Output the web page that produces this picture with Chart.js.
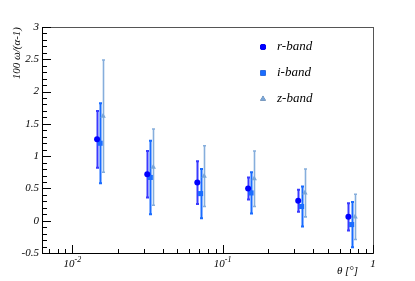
<!DOCTYPE html>
<html>
<head>
<meta charset="utf-8">
<script src="https://cdn.jsdelivr.net/npm/chart.js@4/dist/chart.umd.min.js"></script>
<style>
  html, body { margin: 0; padding: 0; background: #fff; }
  #wrap { width: 415px; height: 281px; }
</style>
</head>
<body>
<div id="wrap"><canvas id="chart" width="415" height="281"></canvas></div>
<script>
// angular bins (degrees) for each band, slightly shifted as in the plot
const thetaR = [0.0146, 0.0315, 0.0678, 0.1476, 0.318, 0.686];
const thetaI = [0.0153, 0.0330, 0.0713, 0.1545, 0.335, 0.721];
const thetaZ = [0.0160, 0.0345, 0.0752, 0.1620, 0.352, 0.759];

const rValues = [1.26, 0.72, 0.59, 0.50, 0.31, 0.06];
const rErrors = [0.44, 0.36, 0.33, 0.17, 0.17, 0.21];
const iValues = [1.20, 0.67, 0.42, 0.43, 0.22, -0.06];
const iErrors = [0.62, 0.57, 0.38, 0.32, 0.31, 0.35];
const zValues = [1.62, 0.83, 0.69, 0.65, 0.43, 0.06];
const zErrors = [0.87, 0.59, 0.47, 0.43, 0.37, 0.35];

const bandLabels = ['r-band', 'i-band', 'z-band'];
const yTicks = [-0.5, 0, 0.5, 1, 1.5, 2, 2.5, 3];
const xMajor = [0.01, 0.1, 1];
const xMajorLabels = [['10', '-2'], ['10', '-1'], ['1', '']];

const serif = '"Liberation Serif", "DejaVu Serif", serif';

function points(xs, ys) {
    return xs.map((x, i) => ({ x: x, y: ys[i] }));
}

const errBars = {
    id: 'errBars',
    beforeDatasetsDraw(chart) {
        const ctx = chart.ctx;
        const xs = chart.scales.x, ys = chart.scales.y;
        chart.data.datasets.forEach((ds, di) => {
            ctx.save();
            ctx.strokeStyle = ds.errColor;
            ctx.lineWidth = ds.errWidth;
            ds.data.forEach((p, i) => {
                const px = Math.round(xs.getPixelForValue(p.x)) + 0.5;
                const top = ys.getPixelForValue(p.y + ds.errors[i]);
                const bot = ys.getPixelForValue(p.y - ds.errors[i]);
                ctx.beginPath();
                ctx.moveTo(px, top);
                ctx.lineTo(px, bot);
                ctx.moveTo(px - 1.5, top);
                ctx.lineTo(px + 1.5, top);
                ctx.moveTo(px - 1.5, bot);
                ctx.lineTo(px + 1.5, bot);
                ctx.stroke();
            });
            ctx.restore();
        });
    }
};

const frame = {
    id: 'frame',
    afterDraw(chart) {
        const ctx = chart.ctx;
        const a = chart.chartArea;
        const xs = chart.scales.x, ys = chart.scales.y;
        ctx.save();
        // box
        ctx.strokeStyle = '#555';
        ctx.lineWidth = 1;
        ctx.strokeRect(a.left + 0.5, a.top + 0.5, a.right - a.left, a.bottom - a.top);
        // axes
        ctx.strokeStyle = '#000';
        ctx.beginPath();
        ctx.moveTo(a.left + 0.5, a.top);
        ctx.lineTo(a.left + 0.5, a.bottom + 0.5);
        ctx.lineTo(a.right + 0.5, a.bottom + 0.5);
        ctx.stroke();

        // y ticks, inside
        ctx.beginPath();
        for (let k = -5; k <= 30; k++) {
            const v = k / 10;
            const py = Math.round(ys.getPixelForValue(v)) + 0.5;
            const len = (k % 5 === 0) ? 9 : 5;
            ctx.moveTo(a.left, py);
            ctx.lineTo(a.left + len, py);
        }
        // x ticks, inside
        for (let e = -3; e <= 0; e++) {
            for (let m = 1; m <= 9; m++) {
                const v = m * Math.pow(10, e);
                if (v < xs.min || v > xs.max * 1.0001) continue;
                const px = Math.round(xs.getPixelForValue(v)) + 0.5;
                const len = (m === 1) ? 8 : 4;
                ctx.moveTo(px, a.bottom);
                ctx.lineTo(px, a.bottom - len);
            }
        }
        ctx.stroke();

        // x tick labels with exponents
        ctx.fillStyle = '#000';
        ctx.textBaseline = 'alphabetic';
        xMajor.forEach((v, i) => {
            const px = xs.getPixelForValue(v);
            const base = xMajorLabels[i][0], sup = xMajorLabels[i][1];
            ctx.font = 'italic 11px ' + serif;
            const wb = ctx.measureText(base).width;
            ctx.font = 'italic 8px ' + serif;
            const ws = ctx.measureText(sup).width;
            let x0 = px - (wb + ws) / 2;
            ctx.font = 'italic 11px ' + serif;
            ctx.textAlign = 'left';
            ctx.fillText(base, x0, 267);
            ctx.font = 'italic 8px ' + serif;
            ctx.fillText(sup, x0 + wb, 262);
        });

        // axis titles
        ctx.font = 'italic 11px ' + serif;
        ctx.textAlign = 'right';
        ctx.fillText('θ [°]', 358, 274);
        ctx.save();
        ctx.translate(20, a.top);
        ctx.rotate(-Math.PI / 2);
        ctx.textAlign = 'right';
        ctx.fillText('100 ω/(α-1)', 0, 0);
        ctx.restore();

        // legend
        chart.data.datasets.forEach((ds, i) => {
            const ly = 47 + i * 26;
            Chart.helpers.drawPoint(ctx, {
                pointStyle: ds.pointStyle,
                radius: ds.pointRadius,
                borderWidth: 0
            }, 263, ly);
            ctx.fillStyle = ds.backgroundColor;
            ctx.beginPath();
            Chart.helpers.drawPoint(ctx, {
                pointStyle: ds.pointStyle,
                radius: ds.pointRadius,
                borderWidth: 0
            }, 263, ly);
            ctx.fill();
            ctx.fillStyle = '#000';
            ctx.font = 'italic 13px ' + serif;
            ctx.textAlign = 'left';
            ctx.textBaseline = 'middle';
            ctx.fillText(ds.label, 277, ly);
        });
        ctx.restore();
    }
};

const ctx = document.getElementById('chart').getContext('2d');
const chart = new Chart(ctx, {
    type: 'scatter',
    data: {
        datasets: [{
            label: bandLabels[0],
            data: points(thetaR, rValues),
            errors: rErrors,
            pointStyle: 'circle',
            pointRadius: 3,
            backgroundColor: '#0000ff',
            borderColor: '#0000ff',
            borderWidth: 0,
            errColor: '#3a3aff',
            errWidth: 2
        }, {
            label: bandLabels[1],
            data: points(thetaI, iValues),
            errors: iErrors,
            pointStyle: 'rect',
            pointRadius: 3.6,
            backgroundColor: '#1a6cff',
            borderColor: '#1a6cff',
            borderWidth: 0,
            errColor: '#1a6cff',
            errWidth: 2
        }, {
            label: bandLabels[2],
            data: points(thetaZ, zValues),
            errors: zErrors,
            pointStyle: 'triangle',
            pointRadius: 3.2,
            backgroundColor: '#7aa6d8',
            borderColor: '#7aa6d8',
            borderWidth: 0,
            errColor: '#86aedc',
            errWidth: 1.6
        }]
    },
    options: {
        responsive: false,
        animation: false,
        layout: { padding: { top: 27, right: 42, left: 0, bottom: 0 } },
        plugins: { legend: { display: false }, tooltip: { enabled: false } },
        scales: {
            x: {
                type: 'logarithmic',
                min: 0.00628,
                max: 1,
                grid: { display: false },
                border: { display: false },
                ticks: { display: false },
                afterFit(scale) { scale.height = 28; }
            },
            y: {
                min: -0.5,
                max: 3,
                grid: { display: false, drawTicks: false },
                border: { display: false },
                afterBuildTicks(scale) { scale.ticks = yTicks.map(v => ({ value: v })); },
                ticks: {
                    padding: 3,
                    color: '#000',
                    font: { family: serif, size: 11, style: 'italic' },
                    callback: v => String(v)
                },
                afterFit(scale) { scale.width = 42; }
            }
        }
    },
    plugins: [errBars, frame]
});
</script>
</body>
</html>
